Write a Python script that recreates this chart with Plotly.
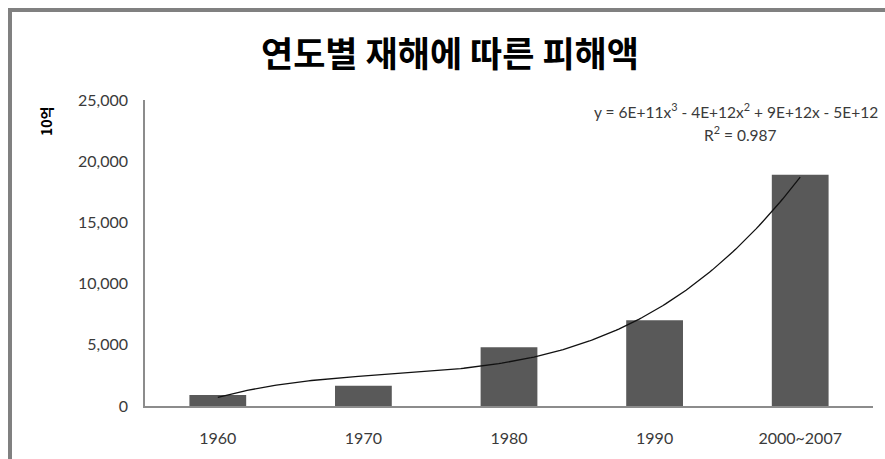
import numpy as np
import plotly.graph_objects as go

# 연도별 재해 피해액 (단위: 10억 원)
periods = ["1960", "1970", "1980", "1990", "2000~2007"]
damage = [900, 1650, 4800, 7000, 18900]
y_ticks = [0, 5000, 10000, 15000, 20000, 25000]

W, H = 885, 459
L, R, T, B = 145, 12, 100, 53
pw, ph = W - L - R, H - T - B


def px(x):
    return (x - L) / pw


def py(y):
    return (H - B - y) / ph


pos = np.arange(len(periods))

# 3차 다항식 추세선 (x = 1..n)
xi = np.arange(1, len(damage) + 1)
coef = np.polyfit(xi, damage, 3)
fit = np.polyval(coef, xi)
ss_res = np.sum((np.array(damage) - fit) ** 2)
ss_tot = np.sum((np.array(damage) - np.mean(damage)) ** 2)
r2 = 1 - ss_res / ss_tot
xs = np.linspace(1, len(damage), 200)
ys = np.polyval(coef, xs)

font = "Lato, 'Noto Sans CJK KR', sans-serif"
kfont = "'Noto Sans CJK KR', sans-serif"

fig = go.Figure()
fig.add_trace(go.Bar(
    x=pos, y=damage, width=0.39,
    marker=dict(color="#595959", line=dict(width=0)),
    showlegend=False, hoverinfo="skip",
))
fig.add_trace(go.Scatter(
    x=xs - 1, y=ys, mode="lines",
    line=dict(color="#111111", width=1.3),
    showlegend=False, hoverinfo="skip",
))

fig.update_layout(
    width=W, height=H,
    margin=dict(l=L, r=R, t=T, b=B),
    paper_bgcolor="white", plot_bgcolor="white",
    font=dict(family=font, size=16, color="#3a3a3a"),
    title=dict(
        text="<b>연도별 재해에 따른 피해액</b>",
        x=450 / W, xanchor="center", y=1 - 55 / H, yanchor="middle",
        font=dict(family=kfont, size=35, color="#000000"),
    ),
    xaxis=dict(
        range=[-0.5, len(periods) - 0.5],
        tickvals=pos, ticktext=periods,
        showline=True, linecolor="#8c8c8c", linewidth=1.5,
        showgrid=False, zeroline=False, ticks="",
        ticklabelstandoff=17,
        tickfont=dict(size=16, color="#3a3a3a"),
    ),
    yaxis=dict(
        range=[0, 25000], tickvals=y_ticks, tickformat=",",
        showline=True, linecolor="#8c8c8c", linewidth=1.5,
        showgrid=False, zeroline=False, ticks="",
        ticklabelstandoff=12,
        tickfont=dict(size=16, color="#3a3a3a"),
    ),
)

eq = "y = 6E+11x<sup>3</sup> - 4E+12x<sup>2</sup> + 9E+12x - 5E+12"
fig.add_annotation(
    text=eq, xref="paper", yref="paper", x=px(592), y=py(110),
    xanchor="left", yanchor="middle", showarrow=False,
    font=dict(family=font, size=15.5, color="#3a3a3a"),
)
fig.add_annotation(
    text=f"R<sup>2</sup> = {r2:.3f}", xref="paper", yref="paper",
    x=px(740), y=py(133), xanchor="center", yanchor="middle", showarrow=False,
    font=dict(family=font, size=15.5, color="#3a3a3a"),
)
fig.add_annotation(
    text="<b>10억</b>", xref="paper", yref="paper", x=px(46), y=py(122),
    xanchor="center", yanchor="middle", textangle=-90, showarrow=False,
    font=dict(family=kfont, size=14, color="#000000"),
)

# 차트 영역 테두리
fig.add_shape(
    type="rect", xref="paper", yref="paper",
    x0=px(10), x1=px(892), y0=py(466), y1=py(10),
    line=dict(color="#808080", width=4), fillcolor="rgba(0,0,0,0)",
    layer="below",
)

fig.write_html("out.html")
